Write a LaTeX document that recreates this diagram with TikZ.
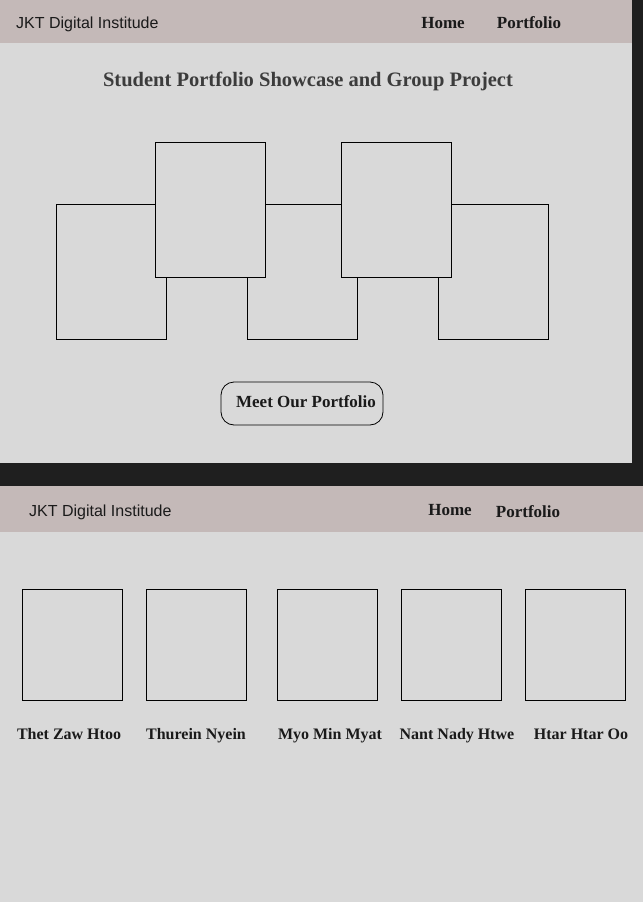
\documentclass[tikz,border=0pt]{standalone}
\usepackage{fontspec}
\setmainfont{Liberation Serif}
\newfontfamily\navsans{Liberation Sans}
\definecolor{navbg}{HTML}{C4B9B8}
\definecolor{pagebg}{HTML}{D9D9D9}
\definecolor{darkbg}{HTML}{1F1F1F}
\definecolor{ink}{HTML}{1A1A1A}
\begin{document}
\begin{tikzpicture}[x=1pt,y=-1pt,
  frame/.style={draw=black,line width=0.8pt,fill=pagebg},
  brand/.style={font=\navsans\fontsize{16}{19}\selectfont,text=ink,anchor=base west,inner sep=0pt},
  navlink/.style={font=\fontsize{17}{20}\selectfont\bfseries,text=ink,inner sep=0pt,anchor=base},
  title/.style={font=\fontsize{20.5}{24}\selectfont\bfseries,text=ink!85,inner sep=0pt,anchor=base},
  person/.style={font=\fontsize{16}{19}\selectfont\bfseries,text=ink,inner sep=0pt,anchor=base},
  btn/.style={draw=black,line width=0.8pt,rounded corners=13pt,fill=pagebg}]
\useasboundingbox (0,0) rectangle (643,902);
% backgrounds
\fill[darkbg] (0,0) rectangle (643,486);
\fill[pagebg] (0,0) rectangle (632,463);
\fill[navbg] (0,0) rectangle (632,43);
\fill[pagebg] (0,486) rectangle (643,902);
\fill[navbg] (0,486) rectangle (643,532);
% top panel texts
\node[brand] (brand1) at (16,28) {JKT Digital Institude};
\node[navlink] (home1) at (443,28) {Home};
\node[navlink] (port1) at (529,28) {Portfolio};
\node[title] (ttl) at (308,86) {Student Portfolio Showcase and Group Project};
% collage boxes (lower row first)
\draw[frame] (56,204) rectangle (166,339);
\draw[frame] (247,204) rectangle (357,339);
\draw[frame] (438,204) rectangle (548,339);
\draw[frame] (155,142) rectangle (265,277);
\draw[frame] (341,142) rectangle (451,277);
% button
\node[btn,minimum width=162pt,minimum height=43pt,inner sep=0pt] (btn) at (302,403.5) {};
\node[navlink] (btntxt) at (306,407) {Meet Our Portfolio};
% bottom panel texts
\node[brand] (brand2) at (29,516) {JKT Digital Institude};
\node[navlink] (home2) at (450,515) {Home};
\node[navlink] (port2) at (528,517) {Portfolio};
% member boxes
\foreach \x/\nm/\cx [count=\i] in {22/Thet Zaw Htoo/69, 146/Thurein Nyein/196, 277/Myo Min Myat/330, 401/Nant Nady Htwe/457, 525/Htar Htar Oo/581}{
  \draw[frame] (\x,589) rectangle ++(100,111);
  \node[person] (m\i) at (\cx,739.5) {\nm};
}
\end{tikzpicture}
\end{document}
